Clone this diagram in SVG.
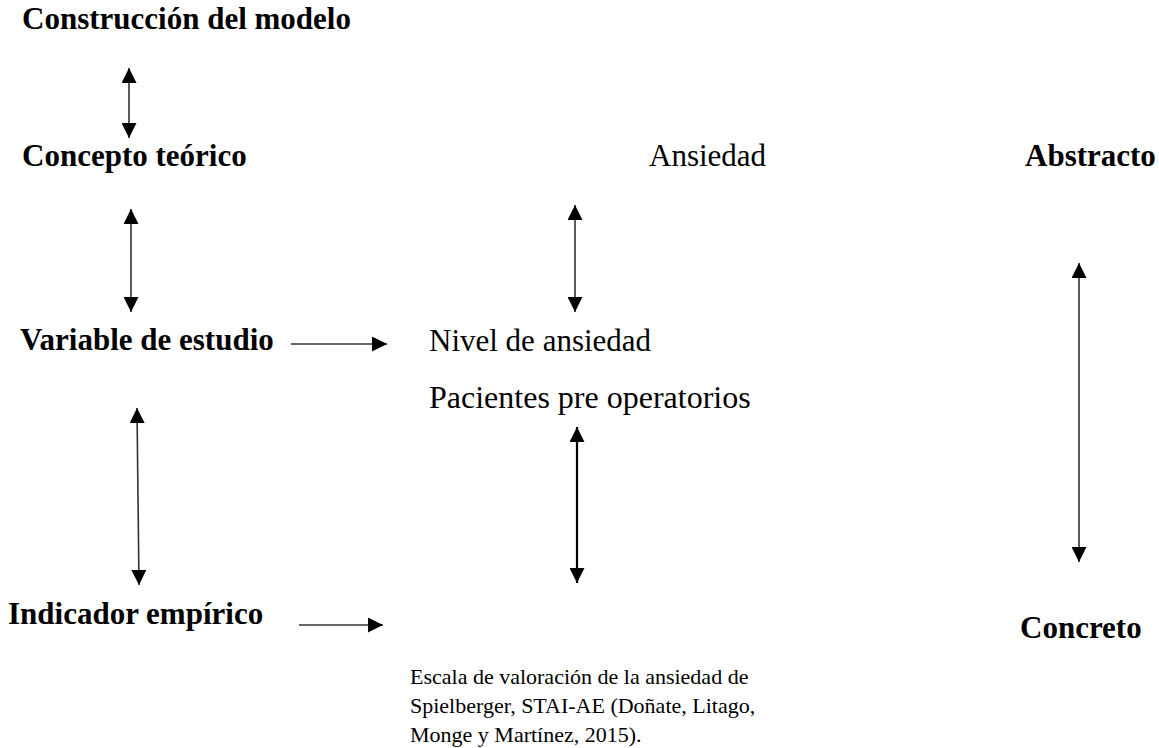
<svg xmlns="http://www.w3.org/2000/svg" width="1159" height="748" viewBox="0 0 1159 748">
<style>
text { font-family: "Liberation Serif", "Times New Roman", serif; font-size: 31px; fill: #000; }
.b { font-weight: bold; }
.s { font-size: 22px; }
.c { stroke: #333; stroke-width: 1.6; fill: none; }
.t { stroke: #000; stroke-width: 2.2; }
</style>
<defs>
<marker id="ahL" viewBox="0 0 10 10" refX="10" refY="5" markerWidth="15" markerHeight="15" markerUnits="userSpaceOnUse" orient="auto-start-reverse">
<path d="M0,0 L10,5 L0,10 z" fill="#000"/>
</marker>
</defs>
<g id="construccion"><text class="b" x="22" y="29">Construcción del modelo</text></g>
<g id="concepto"><text class="b" x="22" y="166">Concepto teórico</text></g>
<g id="ansiedad"><text x="649" y="166">Ansiedad</text></g>
<g id="abstracto"><text class="b" x="1025" y="166">Abstracto</text></g>
<g id="variable"><text class="b" x="20" y="350">Variable de estudio</text></g>
<g id="nivel"><text x="429" y="351">Nivel de ansiedad</text></g>
<g id="pacientes"><text x="429" y="408" style="font-size:32px">Pacientes pre operatorios</text></g>
<g id="indicador"><text class="b" x="8" y="624">Indicador empírico</text></g>
<g id="concreto"><text class="b" x="1020" y="638">Concreto</text></g>
<g id="escala"><text class="s" x="410" y="684">Escala de valoración de la ansiedad de<tspan x="410" y="713">Spielberger, STAI-AE (Doñate, Litago,</tspan><tspan x="410" y="742">Monge y Martínez, 2015).</tspan></text></g>
<g id="connectors">
<line class="c" x1="129" y1="68" x2="129" y2="138" marker-start="url(#ahL)" marker-end="url(#ahL)"/>
<line class="c" x1="131" y1="209" x2="131" y2="312" marker-start="url(#ahL)" marker-end="url(#ahL)"/>
<line class="c" x1="575" y1="205" x2="575" y2="312" marker-start="url(#ahL)" marker-end="url(#ahL)"/>
<line class="c" x1="291" y1="344" x2="387" y2="344" marker-end="url(#ahL)"/>
<line class="c t" x1="577" y1="427" x2="577" y2="583" marker-start="url(#ahL)" marker-end="url(#ahL)"/>
<line class="c" x1="137" y1="408" x2="139" y2="585" marker-start="url(#ahL)" marker-end="url(#ahL)"/>
<line class="c" x1="299" y1="625" x2="383" y2="625" marker-end="url(#ahL)"/>
<line class="c" x1="1079" y1="263" x2="1079" y2="562" marker-start="url(#ahL)" marker-end="url(#ahL)"/>
</g>
</svg>
